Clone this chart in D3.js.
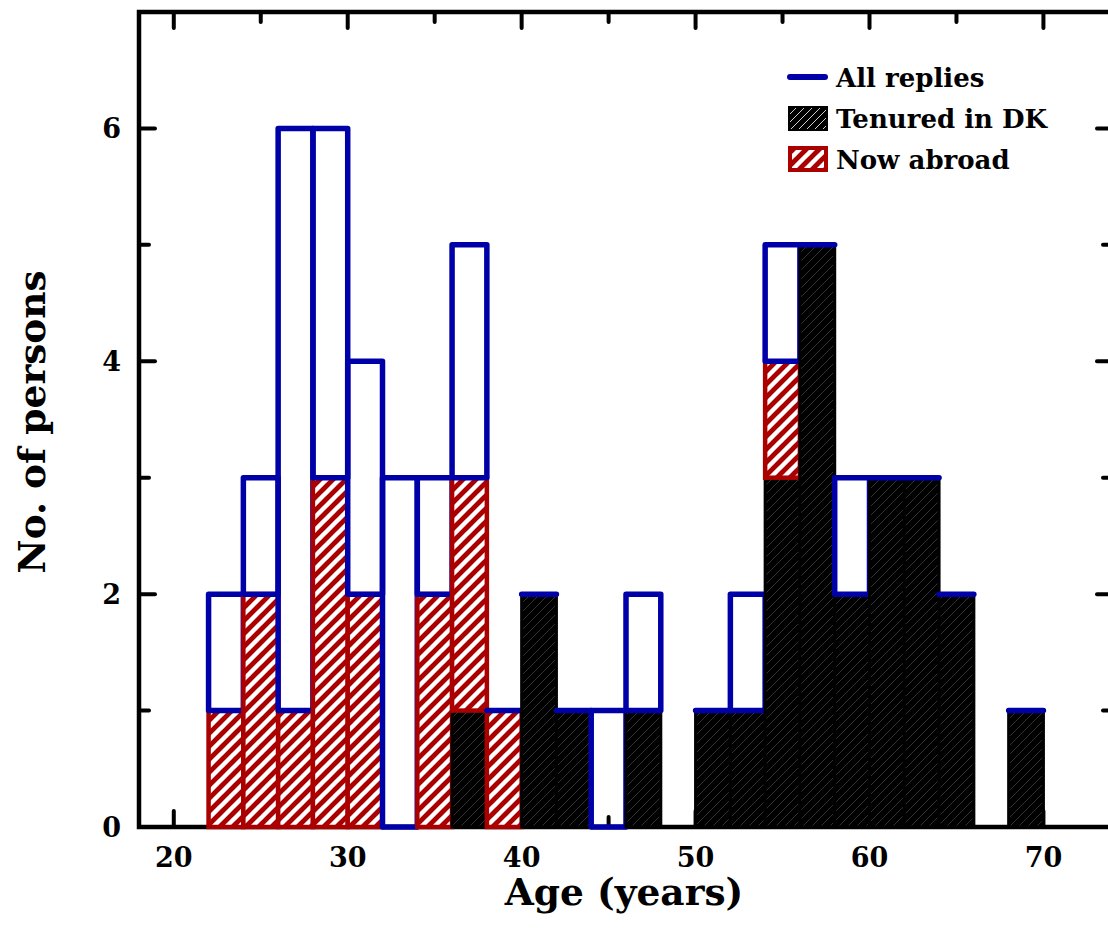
<!DOCTYPE html>
<html>
<head>
<meta charset="utf-8">
<script src="https://cdn.jsdelivr.net/npm/d3@7"></script>
<style>
  body { margin: 0; background: #fff; }
  text { font-family: "DejaVu Serif", serif; font-weight: bold; fill: #000; }
</style>
</head>
<body>
<div id="chart"></div>
<script>
// bin start ages (bins are 2 years wide)
var binStart = [22, 24, 26, 28, 30, 32, 34, 36, 38, 40, 42, 44, 46, 48, 50, 52, 54, 56, 58, 60, 62, 64, 66, 68];
var allReplies = [2, 3, 6, 6, 4, 3, 3, 5, 1, 2, 1, 1, 2, 0, 1, 2, 5, 5, 3, 3, 3, 2, 0, 1];
var tenuredDK = [0, 0, 0, 0, 0, 0, 0, 1, 0, 2, 1, 0, 1, 0, 1, 1, 3, 5, 2, 3, 3, 2, 0, 1];
var nowAbroad = [1, 2, 1, 3, 2, 0, 2, 2, 1, 0, 0, 0, 0, 0, 0, 0, 1, 0, 0, 0, 0, 0, 0, 0];
var binWidth = 2;

var xMajor = [20, 30, 40, 50, 60, 70];
var xMinor = [25, 35, 45, 55, 65];
var yMajor = [0, 2, 4, 6];
var yMinor = [1, 3, 5];

var legendLabels = ["All replies", "Tenured in DK", "Now abroad"];

function drawChart() {
	var BLUE = "#0000a8", RED = "#aa0000";

	var width = 1108, height = 936;
	var mLeft = 139, mRight = 1113, mTop = 12, mBottom = 827;

	var x = d3.scaleLinear().domain([18, 74]).range([mLeft, mRight]);
	var y = d3.scaleLinear().domain([0, 7]).range([mBottom, mTop]);

	var svg = d3.select("#chart").append("svg")
		.attr("width", width)
		.attr("height", height)

	var defs = svg.append("defs");

	// red / white stripes
	var pr = defs.append("pattern")
		.attr("id", "redHatch")
		.attr("patternUnits", "userSpaceOnUse")
		.attr("width", 13).attr("height", 13)
	pr.append("rect").attr("width", 13).attr("height", 13).attr("fill", RED)
	pr.append("path")
		.attr("d", "M-3,3 L3,-3 M0,13 L13,0 M10,16 L16,10")
		.attr("stroke", "#fff").attr("stroke-width", 4.4)

	// black with faint grey lines
	var pb = defs.append("pattern")
		.attr("id", "blackHatch")
		.attr("patternUnits", "userSpaceOnUse")
		.attr("width", 9).attr("height", 9)
	pb.append("rect").attr("width", 9).attr("height", 9).attr("fill", "#000")
	pb.append("path")
		.attr("d", "M-2,2 L2,-2 M0,9 L9,0 M7,11 L11,7")
		.attr("stroke", "#404040").attr("stroke-width", 0.8)

	// legend swatch hatch (lighter lines)
	var pl = defs.append("pattern")
		.attr("id", "blackHatchLeg")
		.attr("patternUnits", "userSpaceOnUse")
		.attr("width", 8).attr("height", 8)
	pl.append("rect").attr("width", 8).attr("height", 8).attr("fill", "#000")
	pl.append("path")
		.attr("d", "M-2,2 L2,-2 M0,8 L8,0 M6,10 L10,6")
		.attr("stroke", "#ccc").attr("stroke-width", 1)

	var tickG = svg.append("g")
		.attr("stroke", "#000")
		.attr("stroke-width", 4)
		.attr("stroke-linecap", "round")

	function xTicks(vals, len) {
		vals.forEach(function (v) {
			tickG.append("line").attr("x1", x(v)).attr("x2", x(v)).attr("y1", mBottom).attr("y2", mBottom - len)
			tickG.append("line").attr("x1", x(v)).attr("x2", x(v)).attr("y1", mTop).attr("y2", mTop + len)
		})
	}
	function yTicks(vals, len) {
		vals.forEach(function (v) {
			tickG.append("line").attr("x1", mLeft).attr("x2", mLeft + len).attr("y1", y(v)).attr("y2", y(v))
			tickG.append("line").attr("x1", mRight).attr("x2", mRight - len).attr("y1", y(v)).attr("y2", y(v))
		})
	}
	xTicks(xMajor, 16)
	xTicks(xMinor, 10)
	yTicks(yMajor, 16)
	yTicks(yMinor, 10)

	// frame
	svg.append("rect")
		.attr("x", mLeft).attr("y", mTop)
		.attr("width", mRight - mLeft).attr("height", mBottom - mTop)
		.attr("fill", "none")
		.attr("stroke", "#000")
		.attr("stroke-width", 4.5)

	var bins = binStart.map(function (s, i) {
		return { x0: s, x1: s + binWidth, all: allReplies[i], ten: tenuredDK[i], abr: nowAbroad[i] };
	});

	// each bin: tenured, abroad on top, then remaining replies as outline
	var bin = svg.append("g").selectAll(".bin")
		.data(bins)
		.join("g")
		.attr("class", "bin")

	bin.filter(function (d) { return d.ten > 0; })
		.append("rect")
		.attr("x", function (d) { return x(d.x0); })
		.attr("width", function (d) { return x(d.x1) - x(d.x0); })
		.attr("y", function (d) { return y(d.ten); })
		.attr("height", function (d) { return y(0) - y(d.ten); })
		.attr("fill", "url(#blackHatch)")
		.attr("stroke", "#000")
		.attr("stroke-width", 3)

	bin.filter(function (d) { return d.abr > 0; })
		.append("rect")
		.attr("x", function (d) { return x(d.x0); })
		.attr("width", function (d) { return x(d.x1) - x(d.x0); })
		.attr("y", function (d) { return y(d.ten + d.abr); })
		.attr("height", function (d) { return y(d.ten) - y(d.ten + d.abr); })
		.attr("fill", "url(#redHatch)")
		.attr("stroke", RED)
		.attr("stroke-width", 4.5)

	bin.filter(function (d) { return d.all > 0; })
		.append("path")
		.attr("d", function (d) {
			var yb = y(d.ten + d.abr), yt = y(d.all);
			return "M" + x(d.x0) + "," + yb + "L" + x(d.x0) + "," + yt +
				"L" + x(d.x1) + "," + yt + "L" + x(d.x1) + "," + yb + "Z";
		})
		.attr("fill", "none")
		.attr("stroke", BLUE)
		.attr("stroke-width", 5.5)
		.attr("stroke-linejoin", "round")
		.attr("stroke-linecap", "round")

	// tick labels
	svg.append("g").selectAll("text")
		.data(xMajor)
		.join("text")
		.attr("x", function (d) { return x(d); })
		.attr("y", 867)
		.attr("text-anchor", "middle")
		.style("font-size", "27px")
		.text(function (d) { return d; })

	svg.append("g").selectAll("text")
		.data(yMajor)
		.join("text")
		.attr("x", 121)
		.attr("y", function (d) { return y(d) + 10; })
		.attr("text-anchor", "end")
		.style("font-size", "27px")
		.text(function (d) { return d; })

	// axis titles
	svg.append("text")
		.attr("x", 624).attr("y", 905)
		.attr("text-anchor", "middle")
		.style("font-size", "37.5px")
		.text("Age (years)")

	svg.append("text")
		.attr("transform", "translate(45,422) rotate(-90)")
		.attr("text-anchor", "middle")
		.style("font-size", "37.5px")
		.text("No. of persons")

	// legend
	var lg = svg.append("g")
	lg.append("line")
		.attr("x1", 790).attr("x2", 825).attr("y1", 77).attr("y2", 77)
		.attr("stroke", BLUE).attr("stroke-width", 6).attr("stroke-linecap", "round")
	lg.append("rect")
		.attr("x", 789).attr("y", 107).attr("width", 38).attr("height", 23)
		.attr("fill", "url(#blackHatchLeg)").attr("stroke", "#000").attr("stroke-width", 2)
	lg.append("rect")
		.attr("x", 790).attr("y", 148).attr("width", 36).attr("height", 22)
		.attr("fill", "url(#redHatch)").attr("stroke", RED).attr("stroke-width", 4)
	lg.selectAll("text")
		.data(legendLabels)
		.join("text")
		.attr("x", 836)
		.attr("y", function (d, i) { return 87 + i * 41; })
		.style("font-size", "26px")
		.text(function (d) { return d; })
}

drawChart();
</script>
</body>
</html>
